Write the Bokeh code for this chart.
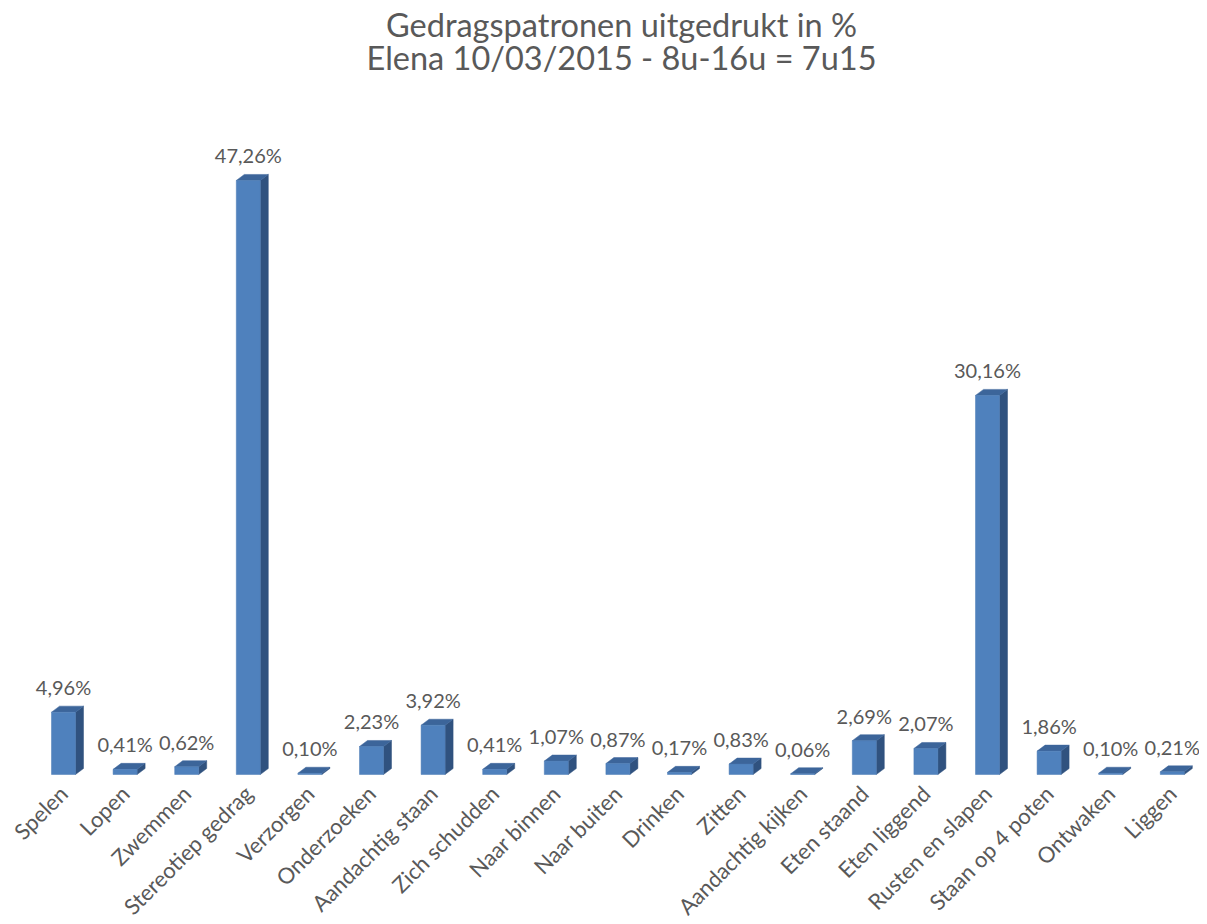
import math
from bokeh.plotting import figure
from bokeh.models import FixedTicker, ColumnDataSource, Range1d, LabelSet, Label
from bokeh.core.properties import value
from bokeh.embed import file_html
from bokeh.resources import INLINE

categories = ["Spelen", "Lopen", "Zwemmen", "Stereotiep gedrag", "Verzorgen",
              "Onderzoeken", "Aandachtig staan", "Zich schudden", "Naar binnen",
              "Naar buiten", "Drinken", "Zitten", "Aandachtig kijken", "Eten staand",
              "Eten liggend", "Rusten en slapen", "Staan op 4 poten", "Ontwaken", "Liggen"]
percentages = [4.96, 0.41, 0.62, 47.26, 0.10, 2.23, 3.92, 0.41, 1.07, 0.87,
               0.17, 0.83, 0.06, 2.69, 2.07, 30.16, 1.86, 0.10, 0.21]
title_line1 = "Gedragspatronen uitgedrukt in %"
title_line2 = "Elena 10/03/2015 - 8u-16u = 7u15"

FONT = "Lato"
TXT = "#595959"
FRONT = "#4F81BD"
SIDE = "#30527F"
TOP = "#3C659A"

FW, FH = 1199, 785
SX, SY = 61.6, 12.57
BASE = 774          # pixel row of the zero line
x0 = -63 / SX
x1 = x0 + FW / SX
y0 = -(FH - BASE) / SY
y1 = y0 + FH / SY

p = figure(frame_width=FW, frame_height=FH, output_backend="svg", toolbar_location=None,
           x_range=Range1d(x0, x1), y_range=Range1d(y0, y1),
           y_axis_location=None, title=None,
           min_border_left=0, min_border_right=0, min_border_top=0,
           min_border_bottom=125)
p.outline_line_color = None
p.grid.visible = False
p.background_fill_color = "white"

# pixel -> data conversions for the 3D depth (style only)
bw = 24 / SX
dx = 8 / SX
dy = 6 / SY

idx = list(range(len(categories)))
labels = [f"{v:.2f}".replace(".", ",") + "%" for v in percentages]

side_xs, side_ys, top_xs, top_ys = [], [], [], []
for i, v in zip(idx, percentages):
    r = i + bw / 2
    l = i - bw / 2
    side_xs.append([r, r + dx, r + dx, r])
    side_ys.append([0, dy, v + dy, v])
    top_xs.append([l, l + dx, r + dx, r])
    top_ys.append([v, v + dy, v + dy, v])

p.patches(side_xs, side_ys, fill_color=SIDE, line_color=SIDE, line_width=0.5)
p.patches(top_xs, top_ys, fill_color=TOP, line_color=TOP, line_width=0.5)
src = ColumnDataSource(dict(x=idx, top=percentages, label=labels))
p.vbar(x="x", top="top", bottom=0, width=bw, source=src,
       fill_color=FRONT, line_color="#4A7AB5", line_width=0.5)

p.add_layout(LabelSet(x="x", y="top", text="label", source=src, y_offset=17,
                      text_align="center", text_baseline="alphabetic",
                      text_font=value(FONT), text_font_size=value("20px"),
                      text_color=value(TXT)))

# two-line title, centred over the bars
tx = (621 - 63) / SX
for txt, base_px in ((title_line1, 24), (title_line2, 57)):
    p.add_layout(Label(x=tx, y=(BASE - base_px) / SY, text=txt,
                       text_align="center", text_baseline="alphabetic",
                       text_font=FONT, text_font_size="32.5px", text_color=TXT))

ax = p.xaxis[0]
ax.ticker = FixedTicker(ticks=idx)
ax.major_label_overrides = {i: c for i, c in zip(idx, categories)}
ax.major_label_orientation = math.pi / 4
ax.axis_line_color = None
ax.major_tick_line_color = None
ax.minor_tick_line_color = None
ax.major_tick_out = 0
ax.major_tick_in = 0
ax.major_label_text_font = FONT
ax.major_label_text_font_size = "22px"
ax.major_label_text_color = TXT
ax.major_label_standoff = 4

open("out.html", "w").write(file_html(p, INLINE))
